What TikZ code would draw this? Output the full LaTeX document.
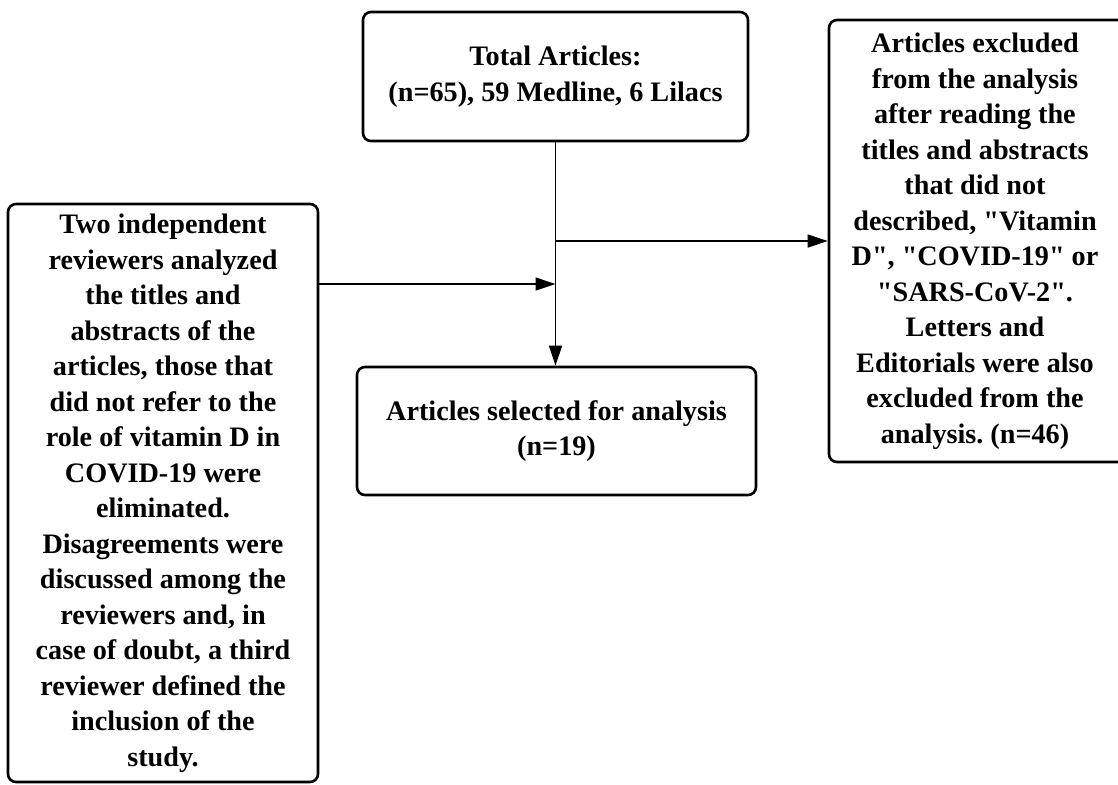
\documentclass[tikz,border=0pt]{standalone}
\usepackage{fontspec}
\setmainfont[Ligatures=TeXOff]{Liberation Serif}
\usetikzlibrary{arrows.meta}

\begin{document}
\frenchspacing
\begin{tikzpicture}[x=0.5pt,y=-0.5pt,
    box/.style={draw,line width=1.3pt,rounded corners=4pt,align=center,
      inner sep=0pt,font=\bfseries\fontsize{14.1}{17.75}\selectfont},
    link/.style={line width=0.7pt,-{Triangle[length=10pt,width=6.5pt]}}]
  % Canvas
  \useasboundingbox (0,0) rectangle (1118,784);

  % Draw the boxes
  \node[box,minimum width=192.5pt,minimum height=64.5pt] (total) at (555.5,76.5)
    {Total Articles:\\(n=65), 59 Medline, 6 Lilacs};
  \node[box,minimum width=152pt,minimum height=221pt] (excl) at (981,241)
    {\hspace*{-6pt}\begin{tabular}{@{}c@{}}Articles excluded\\from the analysis\\after reading the\\titles and abstracts\\that did not\\described, "Vitamin\\D", "COVID-19" or\\"SARS-CoV-2".\\Letters and\\Editorials were also\\excluded from the\\analysis. (n=46)\end{tabular}};
  \node[box,minimum width=155pt,minimum height=289pt] (review) at (163,493)
    {Two independent\\reviewers analyzed\\the titles and\\abstracts of the\\articles, those that\\did not refer to the\\role of vitamin D in\\COVID-19 were\\eliminated.\\Disagreements were\\discussed among the\\reviewers and, in\\case of doubt, a third\\reviewer defined the\\inclusion of the\\study.};
  \node[box,minimum width=199.5pt,minimum height=64pt] (sel) at (556.5,431)
    {Articles selected for analysis\\(n=19)};

  % Draw the connectors
  \coordinate (join) at (555.5,284);
  \draw[link] (total.south) -- (total.south |- sel.north);
  \draw[link] (total.south |- excl.west) -- (excl.west);
  \draw[link] (review.east |- join) -- (join);
\end{tikzpicture}
\end{document}
